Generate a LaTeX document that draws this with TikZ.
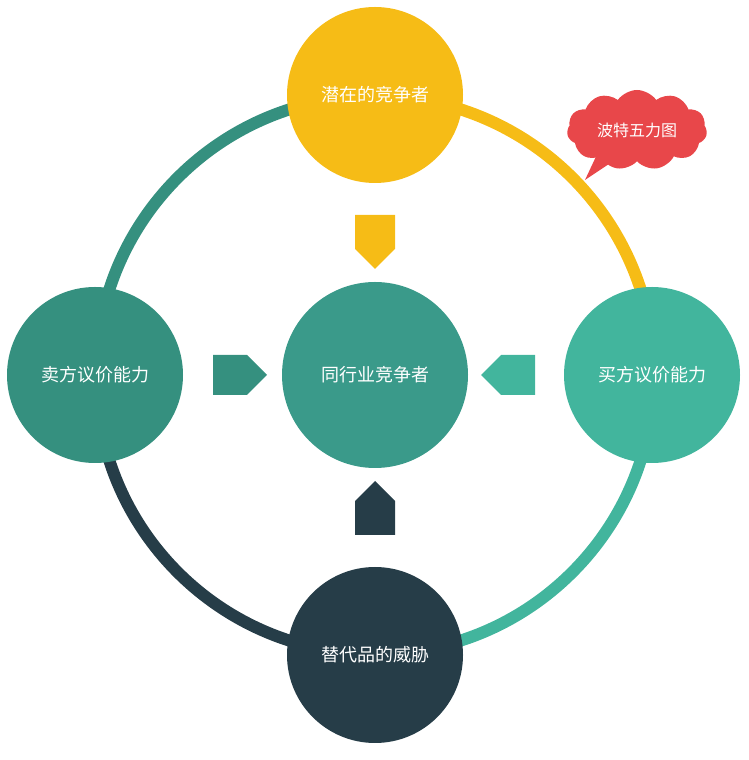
\documentclass[tikz,border=0pt]{standalone}
\usepackage{fontspec}
\newfontfamily\cjk{Noto Sans CJK SC}
\usetikzlibrary{shapes.arrows,shapes.symbols}
\definecolor{cyel}{HTML}{F6BC16}
\definecolor{cleft}{HTML}{35907F}
\definecolor{ccen}{HTML}{3A9A8A}
\definecolor{cright}{HTML}{42B59D}
\definecolor{cbot}{HTML}{263D48}
\definecolor{cred}{HTML}{E8474A}
\begin{document}
\begin{tikzpicture}[x=1pt,y=1pt,
  ball/.style={circle,minimum size=176pt,inner sep=0pt,text=white,font=\cjk\fontsize{18}{20}\selectfont},
  barrow/.style={single arrow,fill=#1,minimum height=54pt,minimum width=40pt,single arrow head extend=0pt,inner sep=0pt,single arrow tip angle=90},
  ring/.style={line width=12pt}]
\useasboundingbox (0,0) rectangle (748,760);
\coordinate (rc) at (375,385);
\draw[ring,cleft] (rc) ++(180:279) arc (180:90:279);
\draw[ring,cyel] (rc) ++(90:279) arc (90:0:279);
\draw[ring,cright] (rc) ++(0:279) arc (0:-90:279);
\draw[ring,cbot] (rc) ++(-90:279) arc (-90:-180:279);
\node[ball,fill=cyel] (top) at (375,665) {潜在的竞争者};
\node[ball,fill=cleft] (left) at (95,385) {卖方议价能力};
\node[ball,fill=cright] (right) at (652,385) {买方议价能力};
\node[ball,fill=cbot] (bot) at (375,105) {替代品的威胁};
\node[ball,fill=ccen,minimum size=186pt] (cen) at (375,385) {同行业竞争者};
\node[barrow=cyel,rotate=-90] (at) at (375,528) {};
\node[barrow=cleft] (al) at (230,385) {};
\node[barrow=cright,rotate=180] (ar) at (518,385) {};
\node[barrow=cbot,rotate=90] (ab) at (375,242) {};
\fill[cred] (600,612) -- (585,580) -- (618,602) -- cycle;
\node[cloud,cloud puffs=11,cloud puff arc=110,aspect=1.9,fill=cred,minimum width=140pt,minimum height=80pt,inner sep=0pt,text=white,font=\cjk\fontsize{16}{18}\selectfont] (cl) at (637,630) {波特五力图};
\end{tikzpicture}
\end{document}
